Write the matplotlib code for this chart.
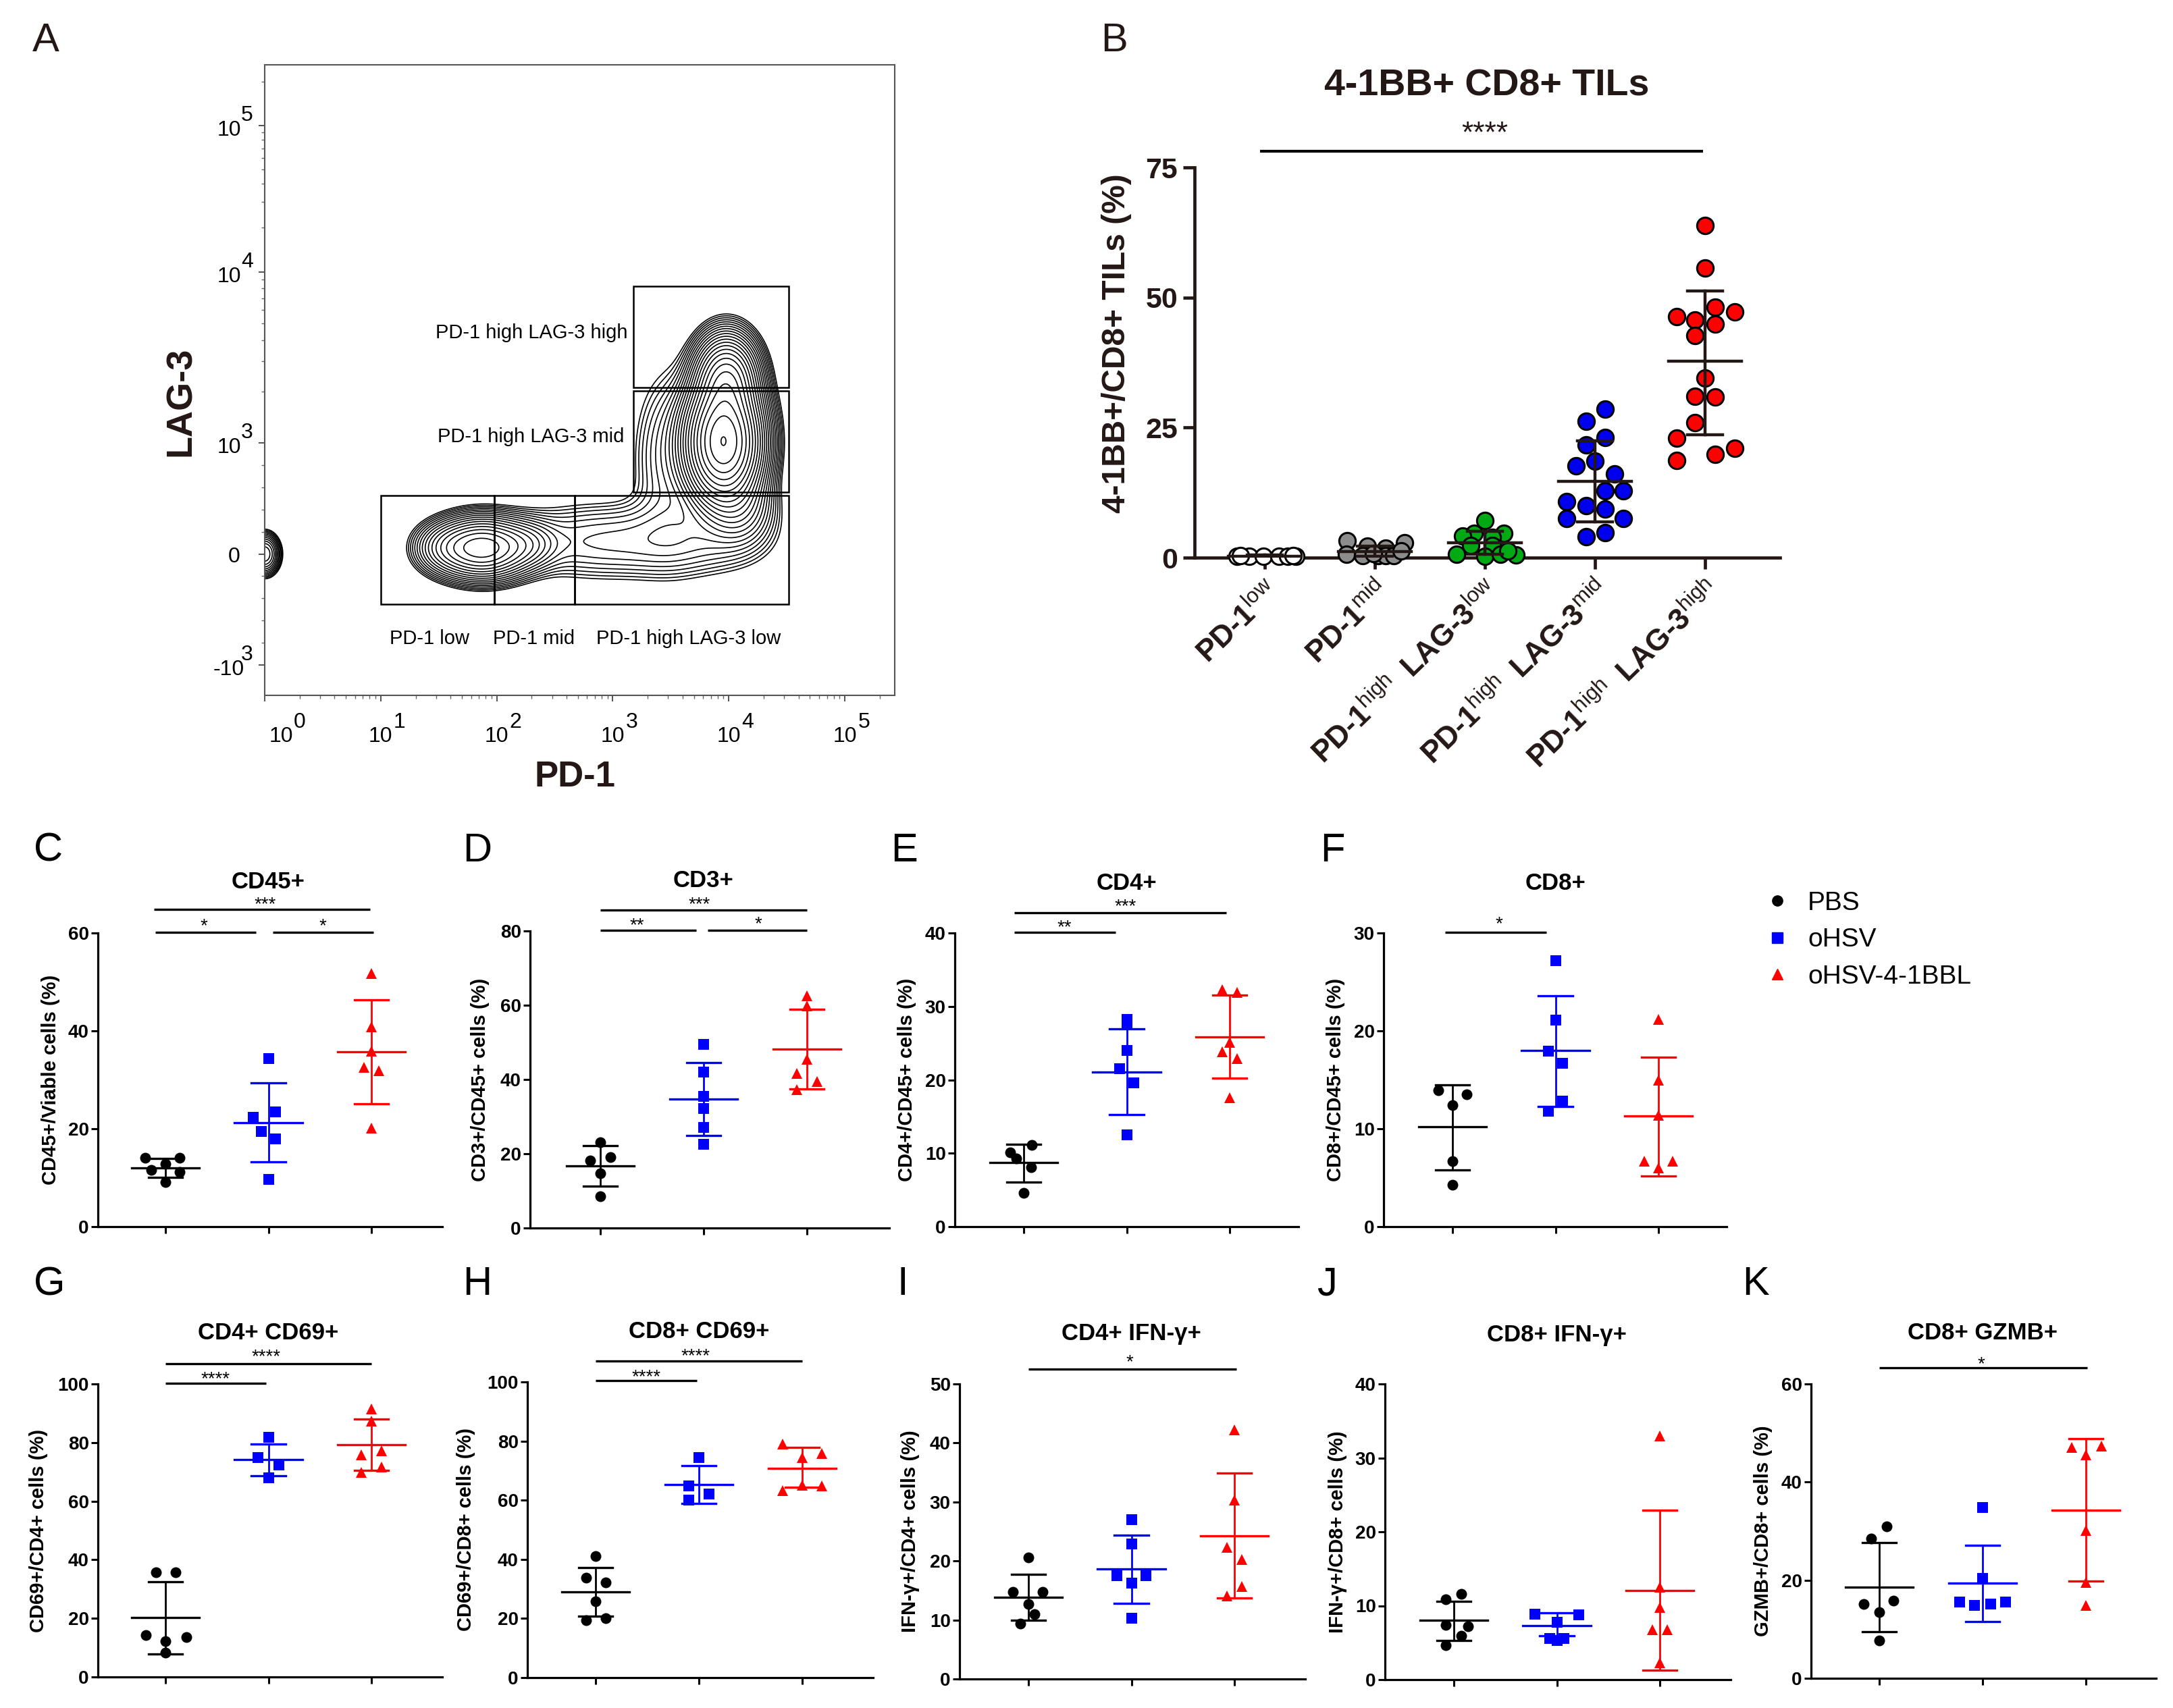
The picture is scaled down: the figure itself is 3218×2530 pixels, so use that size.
# flow gating contour plus the dot plots for TIL populations
import numpy as np
import matplotlib
matplotlib.use('Agg')
import matplotlib.pyplot as plt
from matplotlib.lines import Line2D
from matplotlib.patches import Rectangle
from matplotlib.ticker import FixedLocator, NullFormatter

plt.rcParams['font.family'] = ['Liberation Sans', 'DejaVu Sans']
plt.rcParams['mathtext.fontset'] = 'custom'
plt.rcParams['mathtext.rm'] = 'Liberation Sans'
plt.rcParams['mathtext.bf'] = 'Liberation Sans:bold'
plt.rcParams['mathtext.it'] = 'Liberation Sans:italic'

W, H = 3218, 2530
DARK = '#231815'

# Panel A: density blobs (log10 PD-1, LAG-3 display position)
blob_u = [1.873, 1.55, 2.263, 2.653, 3.226, 3.798, 3.954, 3.98, 3.486, 4.11, 0.0]
blob_v = [0.036, 0.036, 0.059, 0.074, 0.074, 0.089, 0.653, 1.024, 0.564, 0.267, 0.0]
blob_su = [0.22, 0.15, 0.156, 0.364, 0.364, 0.364, 0.166, 0.14, 0.182, 0.156, 0.07]
blob_sv = [0.095, 0.08, 0.08, 0.13, 0.13, 0.13, 0.184, 0.134, 0.3, 0.119, 0.065]
blob_amp = [0.7, 0.12, 0.12, 0.055, 0.055, 0.055, 3.0, 1.0, 0.07, 0.15, 0.24]

gate_x0 = [10, 95, 467, 1500, 1500]
gate_x1 = [95, 467, 32800, 32800, 32800]
gate_y0 = [-450, -450, -450, 560, 2120]
gate_y1 = [527, 527, 527, 2009, 8260]

# Panel B
b_names = ['PD-1$^{\\mathrm{low}}$', 'PD-1$^{\\mathrm{mid}}$',
           'PD-1$^{\\mathrm{high}}$ \u2009LAG-3$^{\\mathrm{low}}$',
           'PD-1$^{\\mathrm{high}}$ \u2009LAG-3$^{\\mathrm{mid}}$',
           'PD-1$^{\\mathrm{high}}$ \u2009LAG-3$^{\\mathrm{high}}$']
b_vals = [[0.3, 0.3, 0.2, 0.2, 0.2, 0.3, 0.4, 0.4],
          [3.2, 2.9, 2.2, 1.8, 0.6, 0.4, 0.4, 0.4, 0.4, 1.3, 0.8],
          [7.1, 4.7, 4.7, 4.2, 3.9, 2.4, 2.4, 0.6, 0.3, 0.6, 0.5, 1.3],
          [28.6, 26.2, 23.1, 21.7, 18.5, 17.6, 16.1, 12.9, 12.9, 10.8, 10.0, 9.3, 7.5, 7.5, 4.8, 4.0],
          [63.8, 55.7, 48.1, 47.2, 46.3, 45.7, 44.9, 42.7, 34.5, 31.0, 30.9, 25.9, 23.0, 21.0, 19.8, 18.7]]
b_offs = [[-0.25, -0.14, -0.01, 0.13, 0.21, 0.28, -0.22, 0.26],
          [-0.25, 0.27, -0.07, 0.1, -0.26, -0.11, 0.03, 0.1, 0.17, 0.24, -0.01],
          [0.0, -0.1, 0.17, -0.2, 0.07, -0.13, 0.07, -0.26, 0.0, 0.14, 0.28, 0.21],
          [0.09, -0.08, 0.09, -0.08, 0.0, -0.17, 0.18, 0.09, 0.26, -0.26, -0.08, 0.09, -0.26, 0.26, 0.09, -0.08],
          [0.0, 0.0, 0.09, 0.27, -0.26, -0.09, 0.09, -0.09, 0.0, -0.09, 0.09, -0.09, -0.26, 0.27, 0.09, -0.26]]
b_bars = [[0.3, 0.5, 0.1], [1.2, 2.2, 0.2], [2.9, 5.1, 0.7], [14.6, 22.4, 6.9], [37.7, 51.2, 23.6]]
b_cols = ['white', '#8c8c8c', '#00aa14', '#0000ee', '#ff0000']

# Panels C-K, each row is PBS, oHSV, oHSV-4-1BBL
c_vals = [[14.1, 14.1, 12.8, 11.6, 11.2, 9.1], [34.3, 23.5, 22.3, 19.5, 18.0, 9.7], [51.7, 40.8, 35.8, 32.5, 31.9, 20.1]]
c_offs = [[-0.2, 0.14, 0, -0.14, 0.14, 0], [0, 0.07, -0.15, -0.07, 0.07, 0], [0, 0, 0, -0.07, 0.07, 0]]
c_bars = [[12.0, 14.0, 10.1], [21.3, 29.4, 13.2], [35.7, 46.3, 25.1]]

d_vals = [[23.1, 19.1, 18.2, 14.8, 8.5], [49.4, 42.0, 35.4, 32.2, 27.1, 22.5], [62.6, 59.8, 45.4, 41.7, 39.4, 37.2]]
d_offs = [[0, 0.1, -0.1, 0, 0], [0, 0, 0, 0, 0, 0], [0, 0, 0, -0.1, 0.1, -0.1]]
d_bars = [[16.7, 22.2, 11.3], [34.7, 44.6, 24.9], [48.1, 58.9, 37.4]]

e_vals = [[11.1, 10.1, 9.3, 8.1, 4.6], [28.2, 27.6, 24.0, 21.5, 19.6, 12.5], [32.3, 31.9, 25.1, 23.8, 22.9, 17.6]]
e_offs = [[0.08, -0.13, -0.07, 0.07, 0], [0, 0, 0, -0.07, 0.07, 0], [-0.07, 0.07, 0, -0.07, 0.07, 0]]
e_bars = [[8.7, 11.2, 6.1], [21.1, 26.9, 15.3], [25.8, 31.5, 20.2]]

f_vals = [[13.9, 13.5, 12.4, 6.7, 4.3], [27.2, 21.1, 17.9, 16.7, 12.8, 11.8], [21.2, 15.0, 11.4, 6.7, 6.7, 6.0]]
f_offs = [[-0.14, 0.14, 0, 0, 0], [0, 0, -0.07, 0.07, 0.07, -0.07], [0, 0, 0, -0.14, 0.14, 0]]
f_bars = [[10.2, 14.5, 5.8], [18.0, 23.6, 12.3], [11.3, 17.3, 5.2]]

g_vals = [[35.8, 35.8, 14.3, 13.6, 12.3, 8.4], [81.7, 74.8, 72.3, 67.9], [91.5, 87.4, 75.8, 77.3, 71.6, 69.9]]
g_offs = [[-0.09, 0.1, -0.19, 0.2, 0, 0], [0, -0.1, 0.1, 0], [0, 0, -0.1, 0.1, 0.1, -0.1]]
g_bars = [[20.2, 32.5, 7.8], [74.1, 79.5, 68.7], [79.2, 88.1, 70.6]]

h_vals = [[41.1, 33.9, 32.1, 25.9, 19.4, 20.1], [74.4, 64.8, 62.2, 60.0], [79.1, 75.7, 74.4, 65.1, 64.9, 63.2]]
h_offs = [[0, -0.09, 0.1, 0, -0.09, 0.1], [0, -0.1, 0.1, -0.1], [-0.19, 0.19, 0, 0, 0.19, -0.19]]
h_bars = [[28.9, 37.2, 20.7], [65.4, 71.7, 59.0], [70.8, 77.8, 64.4]]

i_vals = [[20.6, 14.8, 14.8, 12.7, 11.0, 9.4], [27.0, 22.9, 17.5, 17.5, 16.2, 10.3], [42.2, 30.3, 22.3, 20.2, 15.7, 14.1]]
i_offs = [[0, -0.15, 0.14, 0, 0.06, -0.08], [0, 0, -0.14, 0.14, 0, 0], [0, 0, -0.07, 0.07, 0.07, -0.07]]
i_bars = [[13.9, 17.7, 10.0], [18.6, 24.4, 12.8], [24.3, 34.9, 13.7]]

j_vals = [[11.6, 10.9, 7.4, 7.2, 5.9, 4.7], [8.9, 8.8, 7.8, 5.6, 5.6, 5.3], [33.0, 12.5, 9.8, 6.8, 6.8, 2.3]]
j_offs = [[0.07, -0.08, -0.08, 0.14, 0.07, -0.08], [-0.21, 0.21, 0, -0.07, 0.07, 0], [0, 0, 0, -0.07, 0.07, 0]]
j_bars = [[8.0, 10.6, 5.3], [7.3, 9.0, 5.9], [12.1, 22.9, 1.3]]

k_vals = [[30.9, 28.5, 15.8, 15.1, 13.5, 7.7], [34.8, 20.4, 15.5, 15.5, 14.8, 15.2], [47.4, 47.0, 45.5, 30.1, 19.6, 14.8]]
k_offs = [[0.07, -0.08, 0.14, -0.15, 0, 0], [0, 0, -0.22, 0.22, -0.08, 0.08], [0.15, -0.14, 0, 0, 0, 0]]
k_bars = [[18.6, 27.6, 9.5], [19.4, 27.1, 11.6], [34.3, 48.9, 19.8]]

groups = ['PBS', 'oHSV', 'oHSV-4-1BBL']
group_cols = ['black', '#0000ff', '#ff0000']
group_marks = ['o', 's', '^']


def make_axes(left, top, bottom, right):
    return fig.add_axes([left / W, 1 - bottom / H, (right - left) / W, (bottom - top) / H])


def lag_forward(y):
    y = np.asarray(y, dtype=float)
    upper = np.interp(np.log10(np.maximum(y, 1000.0)), [3, 4, 5, 6], [0.647, 1.647, 2.499, 3.35])
    return np.where(y <= 1000, y / 1000 * 0.647, upper)


def lag_inverse(v):
    v = np.asarray(v, dtype=float)
    upper = 10 ** np.interp(np.maximum(v, 0.647), [0.647, 1.647, 2.499, 3.35], [3, 4, 5, 6])
    return np.where(v <= 0.647, v / 0.647 * 1000, upper)


def sig_line(ax, x0, x1, y, lw=2.4):
    ax.plot([x0, x1], [y, y], color='black', lw=lw, clip_on=False,
            transform=ax.get_xaxis_transform(), solid_capstyle='butt')


def sig_star(ax, x, y, s, size=20):
    ax.annotate(s, xy=(x, y), xycoords=('data', 'axes fraction'), xytext=(0, -8),
                textcoords='offset pixels', ha='center', va='center', fontsize=size)


def panel(rect, c0, step, letter, title, title_y, ylabel, label_x, ymax, ticks, vals, offs, bars, sig=()):
    left, top, bottom, right = rect
    ax = make_axes(left, top, bottom, right)
    ax.set_xlim((left - c0) / step, (right - c0) / step)
    ax.set_ylim(0, ymax)
    for g in range(3):
        xs = [g + o for o in offs[g]]
        ax.plot(xs, vals[g], ls='none', marker=group_marks[g], color=group_cols[g], ms=11.5,
                mew=0, clip_on=False, zorder=3)
        mean, hi, lo = bars[g]
        ax.plot([g, g], [lo, hi], color=group_cols[g], lw=2, zorder=4, clip_on=False)
        ax.plot([g - 0.33, g + 0.33], [mean, mean], color=group_cols[g], lw=2.4, zorder=4)
        ax.plot([g - 0.165, g + 0.165], [hi, hi], color=group_cols[g], lw=2.4, zorder=4, clip_on=False)
        ax.plot([g - 0.165, g + 0.165], [lo, lo], color=group_cols[g], lw=2.4, zorder=4, clip_on=False)
    for s in ['top', 'right']:
        ax.spines[s].set_visible(False)
    for s in ['left', 'bottom']:
        ax.spines[s].set_linewidth(2.3)
    ax.set_xticks([0, 1, 2])
    ax.set_xticklabels([])
    ax.set_yticks(ticks)
    ax.tick_params(axis='both', length=7.5, width=2.2)
    ax.tick_params(axis='y', pad=2, labelsize=20)
    for t in ax.get_yticklabels():
        t.set_fontweight('bold')
    ax.text(left - label_x, (top + bottom) / 2, ylabel, transform=pix, rotation=90, ha='center', va='center',
            fontsize=21, fontweight='bold')
    ax.text(c0 + step, title_y + 4, title, transform=pix, ha='center', va='center', fontsize=25, fontweight='bold')
    fig.text(letter[1] / W, 1 - (letter[2] + 4) / H, letter[0], fontsize=43, ha='left', va='center')
    for x0, x1, y, sx, sy, s in sig:
        sig_line(ax, x0, x1, y)
        sig_star(ax, sx, sy, s)
    return ax


fig = plt.figure(figsize=(W / 100, H / 100), dpi=100, facecolor='white')
# pixel coordinates, origin top left
pix = matplotlib.transforms.Affine2D().scale(1 / W, -1 / H).translate(0, 1) + fig.transFigure

# ---- panel A ----
ax = make_axes(392, 96, 1030, 1325)
ax.set_xscale('log')
ax.set_yscale('function', functions=(lag_forward, lag_inverse))
ax.set_xlim(1, 269000)
ax.set_ylim(-1275, 261800)
gu, gv = np.meshgrid(np.linspace(0, 5.43, 700), np.linspace(-0.825, 2.855, 900))
dens = np.zeros_like(gu)
for a, b, c, d, e in zip(blob_u, blob_v, blob_su, blob_sv, blob_amp):
    dens += e * np.exp(-0.5 * ((gu - a) / c) ** 2 - 0.5 * ((gv - b) / d) ** 2)
ax.contour(10 ** gu, lag_inverse(gv), dens, levels=np.geomspace(0.02, 3.0, 23), colors='black', linewidths=1.2)
for x0, x1, y0, y1 in zip(gate_x0, gate_x1, gate_y0, gate_y1):
    ax.add_patch(Rectangle((x0, y0), x1 - x0, y1 - y0, fill=False, ec='black', lw=1.8, zorder=5))
ax.set_xticks([10.0 ** e for e in range(0, 6)])
ax.xaxis.set_minor_locator(FixedLocator([m * 10.0 ** e for e in range(0, 6) for m in range(2, 10)]))
ax.set_yticks([-1000, 0, 1000, 1e4, 1e5])
ax.yaxis.set_minor_locator(FixedLocator([-800, -600, -400, -200, 200, 400, 600, 800] +
                                        [m * 10.0 ** e for e in (3, 4) for m in range(2, 10)] + [2e5]))
ax.xaxis.set_major_formatter(NullFormatter())
ax.xaxis.set_minor_formatter(NullFormatter())
ax.yaxis.set_major_formatter(NullFormatter())
ax.yaxis.set_minor_formatter(NullFormatter())
ax.tick_params(which='major', length=6.5, width=1.3, color='#444444')
ax.tick_params(which='minor', length=3.5, width=1, color='#666666')
for s in ax.spines.values():
    s.set_linewidth(1.5)
    s.set_color('#555555')
for e in range(0, 6):
    shift = 24 if e == 0 else 0
    ax.annotate('10', xy=(10.0 ** e, 0), xycoords=('data', 'axes fraction'), xytext=(shift, -61),
                textcoords='offset pixels', ha='center', va='center', fontsize=23)
    ax.annotate(str(e), xy=(10.0 ** e, 0), xycoords=('data', 'axes fraction'), xytext=(shift + 28, -40),
                textcoords='offset pixels', ha='center', va='center', fontsize=23)
for val, txt, e in [(1e5, '10', '5'), (1e4, '10', '4'), (1e3, '10', '3'), (-1e3, '-10', '3')]:
    ax.annotate(txt, xy=(0, val), xycoords=('axes fraction', 'data'), xytext=(-53, -7),
                textcoords='offset pixels', ha='center', va='center', fontsize=23)
    ax.annotate(e, xy=(0, val), xycoords=('axes fraction', 'data'), xytext=(-26, 15),
                textcoords='offset pixels', ha='center', va='center', fontsize=23)
ax.annotate('0', xy=(0, 0), xycoords=('axes fraction', 'data'), xytext=(-45, -4),
            textcoords='offset pixels', ha='center', va='center', fontsize=23)
ax.text(787, 493, 'PD-1 high LAG-3 high', transform=pix, fontsize=21, ha='center', va='center')
ax.text(786, 647, 'PD-1 high LAG-3 mid', transform=pix, fontsize=21, ha='center', va='center')
ax.text(636, 946, 'PD-1 low', transform=pix, fontsize=21, ha='center', va='center')
ax.text(791, 946, 'PD-1 mid', transform=pix, fontsize=21, ha='center', va='center')
ax.text(1020, 946, 'PD-1 high LAG-3 low', transform=pix, fontsize=21, ha='center', va='center')
ax.text(852, 1151, 'PD-1', transform=pix, fontsize=38, fontweight='bold', color=DARK, ha='center', va='center')
ax.text(268, 595, 'LAG-3', transform=pix, fontsize=39, fontweight='bold', color=DARK, rotation=90,
        ha='center', va='center')
fig.text(48 / W, 1 - 60 / H, 'A', fontsize=43, ha='left', va='center', color=DARK)

# ---- panel B ----
ax = make_axes(1769, 248, 826, 2636)
ax.set_xlim((1769 - 1873) / 163, (2636 - 1873) / 163)
ax.set_ylim(0, 75)
for g in range(5):
    xs = [g + o for o in b_offs[g]]
    ax.plot(xs, b_vals[g], ls='none', marker='o', mfc=b_cols[g], mec='black', ms=17.5, mew=2.2,
            clip_on=False, zorder=3)
    mean, hi, lo = b_bars[g]
    ax.plot([g, g], [lo, hi], color=DARK, lw=3.2, zorder=4)
    ax.plot([g - 0.33, g + 0.33], [mean, mean], color=DARK, lw=3.2, zorder=4)
    ax.plot([g - 0.16, g + 0.16], [hi, hi], color=DARK, lw=3.2, zorder=4)
    ax.plot([g - 0.16, g + 0.16], [lo, lo], color=DARK, lw=3.2, zorder=4)
for s in ['top', 'right']:
    ax.spines[s].set_visible(False)
for s in ['left', 'bottom']:
    ax.spines[s].set_linewidth(3.4)
    ax.spines[s].set_color(DARK)
ax.set_xticks(range(5))
ax.set_xticklabels(b_names, rotation=44, ha='right', rotation_mode='anchor', fontsize=32, fontweight='bold', color=DARK)
# labels sit a little right of the tick in the reference
for t in ax.get_xticklabels():
    t.set_transform(t.get_transform() + matplotlib.transforms.ScaledTranslation(0.12, 0, fig.dpi_scale_trans))
ax.set_yticks([0, 25, 50, 75])
ax.tick_params(axis='both', length=12, width=3.4, color=DARK)
ax.tick_params(axis='y', labelsize=31, pad=6, labelcolor=DARK)
ax.tick_params(axis='x', pad=8)
for t in ax.get_yticklabels():
    t.set_fontweight('bold')
ax.text(1654, 509, '4-1BB+/CD8+ TILs (%)', transform=pix, rotation=90, ha='center', va='center',
        fontsize=34.5, fontweight='bold', color=DARK)
ax.text(2202, 128, '4-1BB+ CD8+ TILs', transform=pix, ha='center', va='center', fontsize=40, fontweight='bold', color=DARK)
sig_line(ax, -0.04, 3.98, 1.0415, lw=3)
ax.annotate('****', xy=(2, 1.0415), xycoords=('data', 'axes fraction'), xytext=(0, 25), textcoords='offset pixels',
            ha='center', va='center', fontsize=32, color=DARK)
fig.text(1630 / W, 1 - 60 / H, 'B', fontsize=43, ha='left', va='center', color=DARK)

# ---- panels C-K ----
panel((145, 1382, 1817, 655), 245, 152.5, ('C', 50, 1256), 'CD45+', 1303, 'CD45+/Viable cells (%)', 70, 60,
      [0, 20, 40, 60], c_vals, c_offs, c_bars,
      [(-0.11, 1.99, 1.08, 0.97, 1.115, '***'), (-0.1, 0.88, 1.003, 0.375, 1.042, '*'),
       (1.04, 2.02, 1.003, 1.53, 1.042, '*')])
panel((785, 1379, 1819, 1317), 889, 153, ('D', 685, 1256), 'CD3+', 1300, 'CD3+/CD45+ cells (%)', 74, 80,
      [0, 20, 40, 60, 80], d_vals, d_offs, d_bars,
      [(0, 2, 1.07, 0.96, 1.107, '***'), (0, 0.93, 1.002, 0.357, 1.036, '**'), (1.04, 2, 1.002, 1.53, 1.04, '*')])
panel((1414, 1382, 1817, 1923), 1516, 152.5, ('E', 1319, 1256), 'CD4+', 1304, 'CD4+/CD45+ cells (%)', 71, 40,
      [0, 10, 20, 30, 40], e_vals, e_offs, e_bars,
      [(-0.09, 1.97, 1.068, 0.985, 1.107, '***'), (-0.09, 0.89, 1.003, 0.397, 1.037, '**')])
panel((2049, 1382, 1817, 2557), 2151, 152.5, ('F', 1955, 1256), 'CD8+', 1304, 'CD8+/CD45+ cells (%)', 71, 30,
      [0, 10, 20, 30], f_vals, f_offs, f_bars,
      [(-0.07, 0.91, 1.003, 0.455, 1.048, '*')])
panel((145, 2050, 2484, 655), 245, 152.5, ('G', 50, 1899), 'CD4+ CD69+', 1971, 'CD69+/CD4+ cells (%)', 88, 100,
      [0, 20, 40, 60, 80, 100], g_vals, g_offs, g_bars,
      [(0, 2, 1.068, 0.98, 1.109, '****'), (0, 0.98, 1.003, 0.484, 1.035, '****')])
panel((781, 2047, 2485, 1293), 882, 153, ('H', 685, 1899), 'CD8+ CD69+', 1968, 'CD69+/CD8+ cells (%)', 91, 100,
      [0, 20, 40, 60, 80, 100], h_vals, h_offs, h_bars,
      [(0, 2, 1.07, 0.967, 1.105, '****'), (0, 0.98, 1.004, 0.49, 1.034, '****')])
panel((1421, 2050, 2487, 1933), 1523, 152.5, ('I', 1329, 1899), 'CD4+ IFN-γ+', 1972, 'IFN-γ+/CD4+ cells (%)', 73, 50,
      [0, 10, 20, 30, 40, 50], i_vals, i_offs, i_bars,
      [(0, 2.02, 1.051, 0.984, 1.09, '*')])
panel((2051, 2050, 2488, 2563), 2153, 152.5, ('J', 1950, 1899), 'CD8+ IFN-γ+', 1973, 'IFN-γ+/CD8+ cells (%)', 70, 40,
      [0, 10, 20, 30, 40], j_vals, j_offs, j_bars)
panel((2682, 2050, 2486, 3193), 2783, 153, ('K', 2580, 1899), 'CD8+ GZMB+', 1971, 'GZMB+/CD8+ cells (%)', 71, 60,
      [0, 20, 40, 60], k_vals, k_offs, k_bars,
      [(0, 2.01, 1.054, 0.984, 1.084, '*')])

handles = [Line2D([], [], ls='none', marker=m, color=c, ms=11) for m, c in zip(group_marks, group_cols)]
fig.legend(handles, groups, loc='upper left', bbox_to_anchor=(2613 / W, 1 - 1320 / H), frameon=False, fontsize=28,
           handlelength=1, handletextpad=0.65, labelspacing=0.47, borderpad=0, borderaxespad=0)

fig.savefig('out.png', dpi=100)
